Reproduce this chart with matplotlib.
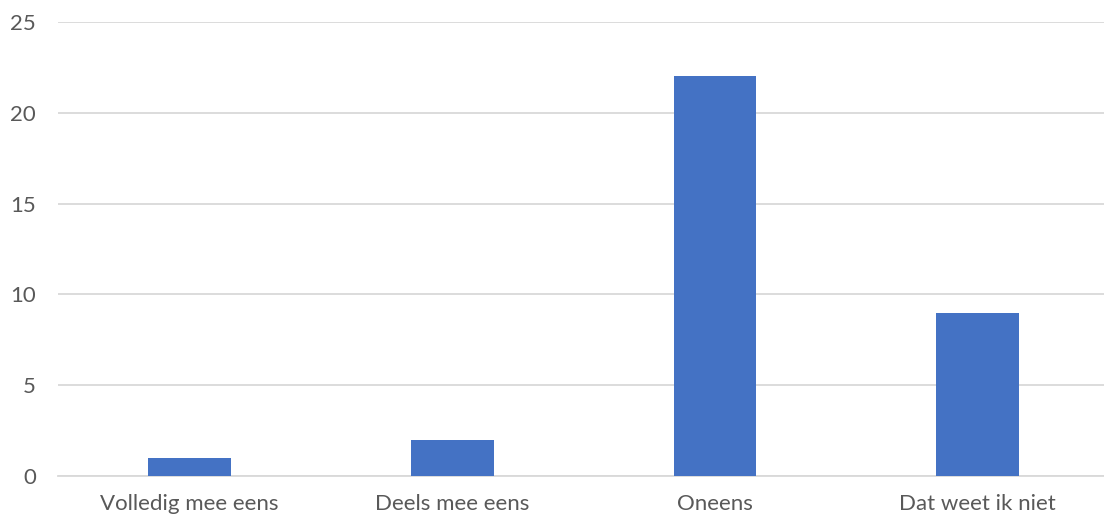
import matplotlib.pyplot as plt

categories = ['Volledig mee eens', 'Deels mee eens', 'Oneens', 'Dat weet ik niet']
counts = [1, 2, 22, 9]
y_ticks = [0, 5, 10, 15, 20, 25]

plt.rcParams['font.family'] = ['Lato', 'DejaVu Sans']

fig = plt.figure(figsize=(11.04, 5.21), dpi=100)
ax = fig.add_axes([58 / 1104, 1 - 476 / 521, 1 - 58 / 1104, (476 - 22) / 521])

x = range(len(categories))
ax.bar(x, counts, width=0.315, color='#4472C4', zorder=3)

ax.set_ylim(0, 25)
ax.set_xlim(-0.5, 3.48)
ax.set_yticks(y_ticks)
ax.set_xticks(list(x))
ax.set_xticklabels(categories)
ax.yaxis.grid(True, color='#d9d9d9', linewidth=1.3, zorder=0)
ax.tick_params(axis='both', length=0, labelsize=16, colors='#595959')
ax.tick_params(axis='y', pad=16)
ax.tick_params(axis='x', pad=13)
for s in ['top', 'right', 'left']:
    ax.spines[s].set_visible(False)
ax.spines['bottom'].set_color('#d9d9d9')
ax.spines['bottom'].set_linewidth(1.3)

fig.savefig('out.png', dpi=100)
